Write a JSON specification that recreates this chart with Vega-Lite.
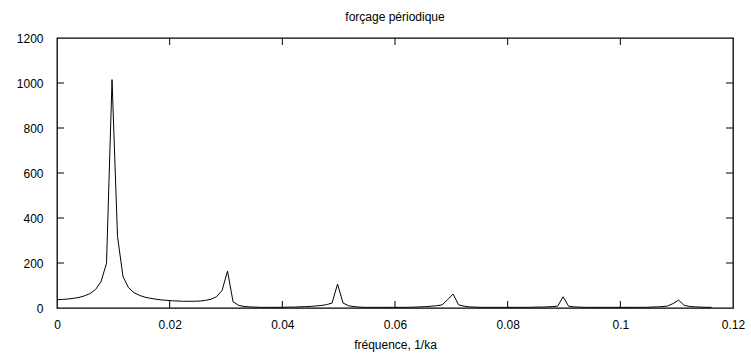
{
  "$schema": "https://vega.github.io/schema/vega-lite/v6.json",
  "autosize": "none",
  "width": 676,
  "height": 270,
  "padding": {"left": 57, "top": 38, "right": 18, "bottom": 47},
  "background": "white",
  "config": {
    "font": "Liberation Sans",
    "view": {"stroke": "black", "strokeWidth": 1.3},
    "axis": {"grid": false, "domain": false, "ticks": false, "tickSize": 0, "labelColor": "black", "labelFontSize": 12, "labelFont": "Liberation Sans", "titleFont": "Liberation Sans", "titleFontSize": 12, "titleFontWeight": "normal", "titleColor": "black"}
  },
  "title": {"text": "forçage périodique", "fontSize": 12, "fontWeight": "normal", "font": "Liberation Sans", "color": "black", "offset": 8},
  "datasets": {
    "spectre": [
      {"f": 0, "a": 37}, {"f": 0.00098, "a": 38}, {"f": 0.00195, "a": 40}, {"f": 0.00293, "a": 43}, {"f": 0.00391, "a": 47},
      {"f": 0.00488, "a": 54}, {"f": 0.00586, "a": 64}, {"f": 0.00684, "a": 82}, {"f": 0.00781, "a": 117}, {"f": 0.00879, "a": 199},
      {"f": 0.00977, "a": 1015}, {"f": 0.01074, "a": 318}, {"f": 0.01172, "a": 139}, {"f": 0.0127, "a": 90}, {"f": 0.01367, "a": 68},
      {"f": 0.01465, "a": 56}, {"f": 0.01563, "a": 48}, {"f": 0.0166, "a": 43}, {"f": 0.01758, "a": 39}, {"f": 0.01855, "a": 36},
      {"f": 0.01953, "a": 34}, {"f": 0.02051, "a": 32}, {"f": 0.02148, "a": 31}, {"f": 0.02246, "a": 30}, {"f": 0.02344, "a": 30},
      {"f": 0.02441, "a": 30}, {"f": 0.02539, "a": 31}, {"f": 0.02637, "a": 34}, {"f": 0.02734, "a": 39}, {"f": 0.02832, "a": 50},
      {"f": 0.0293, "a": 78}, {"f": 0.03027, "a": 164}, {"f": 0.03125, "a": 28}, {"f": 0.03223, "a": 12}, {"f": 0.0332, "a": 7},
      {"f": 0.03418, "a": 5}, {"f": 0.03516, "a": 4}, {"f": 0.03613, "a": 3}, {"f": 0.03711, "a": 3}, {"f": 0.03809, "a": 3},
      {"f": 0.03906, "a": 3}, {"f": 0.04004, "a": 3}, {"f": 0.04102, "a": 4}, {"f": 0.04199, "a": 4}, {"f": 0.04297, "a": 5},
      {"f": 0.04395, "a": 6}, {"f": 0.04492, "a": 7}, {"f": 0.0459, "a": 9}, {"f": 0.04688, "a": 11}, {"f": 0.04785, "a": 15},
      {"f": 0.04883, "a": 22}, {"f": 0.0498, "a": 106}, {"f": 0.05078, "a": 22}, {"f": 0.05176, "a": 10}, {"f": 0.05273, "a": 6},
      {"f": 0.05371, "a": 4}, {"f": 0.05469, "a": 3}, {"f": 0.05566, "a": 3}, {"f": 0.05664, "a": 3}, {"f": 0.05762, "a": 3},
      {"f": 0.05859, "a": 3}, {"f": 0.05957, "a": 3}, {"f": 0.06055, "a": 3}, {"f": 0.06152, "a": 3}, {"f": 0.0625, "a": 3},
      {"f": 0.06348, "a": 4}, {"f": 0.06445, "a": 5}, {"f": 0.06543, "a": 6}, {"f": 0.06641, "a": 8}, {"f": 0.06738, "a": 10},
      {"f": 0.06836, "a": 14}, {"f": 0.06934, "a": 37}, {"f": 0.07031, "a": 62}, {"f": 0.07129, "a": 14}, {"f": 0.07227, "a": 8},
      {"f": 0.07324, "a": 5}, {"f": 0.07422, "a": 4}, {"f": 0.0752, "a": 3}, {"f": 0.07617, "a": 3}, {"f": 0.07715, "a": 3},
      {"f": 0.07813, "a": 3}, {"f": 0.0791, "a": 3}, {"f": 0.08008, "a": 3}, {"f": 0.08105, "a": 3}, {"f": 0.08203, "a": 3},
      {"f": 0.08301, "a": 3}, {"f": 0.08398, "a": 3}, {"f": 0.08496, "a": 4}, {"f": 0.08594, "a": 4}, {"f": 0.08691, "a": 5},
      {"f": 0.08789, "a": 6}, {"f": 0.08887, "a": 8}, {"f": 0.08984, "a": 50}, {"f": 0.09082, "a": 8}, {"f": 0.0918, "a": 5},
      {"f": 0.09277, "a": 4}, {"f": 0.09375, "a": 3}, {"f": 0.09473, "a": 3}, {"f": 0.0957, "a": 3}, {"f": 0.09668, "a": 3},
      {"f": 0.09766, "a": 3}, {"f": 0.09863, "a": 3}, {"f": 0.09961, "a": 3}, {"f": 0.10059, "a": 3}, {"f": 0.10156, "a": 3},
      {"f": 0.10254, "a": 3}, {"f": 0.10352, "a": 3}, {"f": 0.10449, "a": 3}, {"f": 0.10547, "a": 4}, {"f": 0.10645, "a": 5},
      {"f": 0.10742, "a": 6}, {"f": 0.1084, "a": 9}, {"f": 0.10938, "a": 20}, {"f": 0.11035, "a": 35}, {"f": 0.11133, "a": 12},
      {"f": 0.1123, "a": 7}, {"f": 0.11328, "a": 5}, {"f": 0.11426, "a": 4}, {"f": 0.11523, "a": 3}, {"f": 0.11621, "a": 3}
    ],
    "xticks": [
      {"f": 0.02, "a": 0}, {"f": 0.04, "a": 0}, {"f": 0.06, "a": 0}, {"f": 0.08, "a": 0}, {"f": 0.1, "a": 0},
      {"f": 0.02, "a": 1200}, {"f": 0.04, "a": 1200}, {"f": 0.06, "a": 1200}, {"f": 0.08, "a": 1200}, {"f": 0.1, "a": 1200}
    ],
    "yticks": [
      {"f": 0, "a": 200}, {"f": 0, "a": 400}, {"f": 0, "a": 600}, {"f": 0, "a": 800}, {"f": 0, "a": 1000},
      {"f": 0.12, "a": 200}, {"f": 0.12, "a": 400}, {"f": 0.12, "a": 600}, {"f": 0.12, "a": 800}, {"f": 0.12, "a": 1000}
    ]
  },
  "layer": [
    {
      "data": {"name": "spectre"},
      "mark": {"type": "line", "color": "black", "strokeWidth": 1},
      "encoding": {
        "x": {"field": "f", "type": "quantitative", "scale": {"domain": [0, 0.12], "nice": false},
              "axis": {"orient": "bottom", "values": [0, 0.02, 0.04, 0.06, 0.08, 0.1, 0.12], "labelExpr": "datum.value + ''", "title": "fréquence, 1/ka", "labelPadding": 11, "titlePadding": 9, "labelFlush": false}},
        "y": {"field": "a", "type": "quantitative", "scale": {"domain": [0, 1200], "nice": false},
              "axis": {"orient": "left", "values": [0, 200, 400, 600, 800, 1000, 1200], "labelExpr": "datum.value + ''", "title": null, "labelPadding": 14, "labelFlush": false}}
      }
    },
    {
      "data": {"name": "xticks"},
      "mark": {"type": "tick", "orient": "vertical", "color": "black", "size": 14, "thickness": 1, "opacity": 1, "clip": true},
      "encoding": {
        "x": {"field": "f", "type": "quantitative"},
        "y": {"field": "a", "type": "quantitative"}
      }
    },
    {
      "data": {"name": "yticks"},
      "mark": {"type": "tick", "orient": "horizontal", "color": "black", "size": 14, "thickness": 1, "opacity": 1, "clip": true},
      "encoding": {
        "x": {"field": "f", "type": "quantitative"},
        "y": {"field": "a", "type": "quantitative"}
      }
    }
  ]
}
